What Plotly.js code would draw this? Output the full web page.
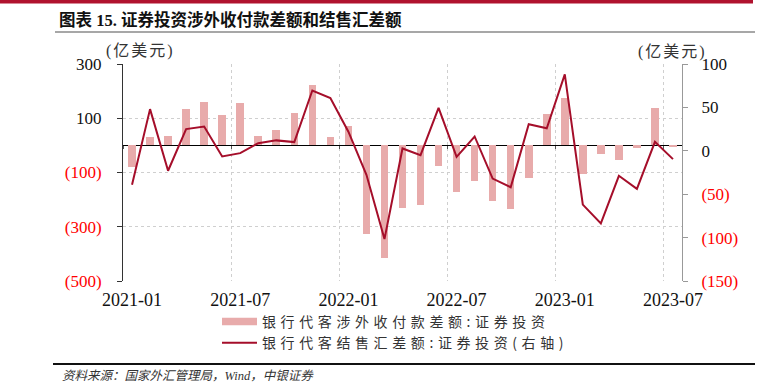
<!DOCTYPE html>
<html>
<head>
<meta charset="utf-8">
<script src="https://cdn.plot.ly/plotly-3.0.1.min.js"></script>
<style>
  html, body { margin: 0; padding: 0; background: #fff; }
  #wrap { position: relative; width: 763px; height: 384px; }
  #chart { width: 763px; height: 384px; }
  #footrule { position: absolute; left: 53px; top: 363px; width: 702px; height: 2px; background: #111; z-index: 10; }
  .legendtext { letter-spacing: 4.6px; }
  g.annotation[data-index="1"] text, g.annotation[data-index="2"] text { letter-spacing: 2px; }
</style>
</head>
<body>
<div id="wrap">
  <div id="chart"></div>
  <div id="footrule"></div>
</div>
<script>
// ---- data ----
const months = [
  "2021-01","2021-02","2021-03","2021-04","2021-05","2021-06","2021-07","2021-08","2021-09","2021-10","2021-11","2021-12",
  "2022-01","2022-02","2022-03","2022-04","2022-05","2022-06","2022-07","2022-08","2022-09","2022-10","2022-11","2022-12",
  "2023-01","2023-02","2023-03","2023-04","2023-05","2023-06","2023-07"
];
// 银行代客涉外收付款差额:证券投资 (亿美元, left axis)
const payments = [-79, 30, 35, 135, 160, 112, 157, 33, 56, 119, 223, 31,
                  71, -326, -417, -232, -218, -75, -171, -133, -204, -236, -119, 117,
                  176, -107, -31, -54, -11, 138, -7];
// 银行代客结售汇差额:证券投资 (亿美元, right axis)
const settlement = [-39, 48, -23, 25, 28, -6.5, -2.7, 8.8, 12, 10, 69.5, 60.7,
                    22, -27.6, -101.7, 2.7, -5, 49.5, -7, 16.5, -32, -42, 30.7, 26,
                    88, -62, -83.7, -28.8, -43.8, 10.4, -9.6];
const xLabelMonths = ["2021-01","2021-07","2022-01","2022-07","2023-01","2023-07"];
const leftTicks = [-500, -300, -100, 100, 300];
const rightTicks = [-150, -100, -50, 0, 50, 100];
const leftRange = [-500, 300];
const rightRange = [-150, 100];
const seriesNames = ["银行代客涉外收付款差额:证券投资", "银行代客结售汇差额:证券投资(右轴)"];

// ---- helpers ----
const W = 763, H = 384;
const M = {l: 123, r: 81, t: 64, b: 103};
const PW = W - M.l - M.r, PH = H - M.t - M.b;
const px2x = px => (px - M.l) / PW;
const px2y = py => (H - M.b - py) / PH;
const fmt = v => v < 0
  ? '<span style="color:#ff0000">(' + Math.abs(v) + ')</span>'
  : String(v);

const idx = months.map((m, i) => i);
const labelIdx = xLabelMonths.map(m => months.indexOf(m));
const boundaryIdx = labelIdx.map(i => i - 0.5);
const zeroFrac = (0 - leftRange[0]) / (leftRange[1] - leftRange[0]);

const serif = 'Liberation Serif, "Noto Sans CJK SC"';
const cjk = '"Noto Sans CJK SC", Liberation Serif';

const traces = [
  {
    type: 'bar', name: seriesNames[0],
    x: idx, y: payments, xaxis: 'x', yaxis: 'y',
    width: 0.42,
    marker: {color: '#E8ABAB', line: {width: 0}},
    hoverinfo: 'skip'
  },
  {
    type: 'scatter', mode: 'lines', name: seriesNames[1],
    x: idx, y: settlement, xaxis: 'x2', yaxis: 'y2',
    line: {color: '#A50E2A', width: 2},
    hoverinfo: 'skip'
  }
];

const layout = {
  width: W, height: H,
  margin: M,
  paper_bgcolor: '#ffffff', plot_bgcolor: 'rgba(0,0,0,0)',
  showlegend: true,
  bargap: 0,
  xaxis: {
    type: 'linear', range: [-0.5, months.length - 0.5],
    tickmode: 'array', tickvals: labelIdx, ticktext: labelIdx.map(i => months[i]),
    showgrid: false, zeroline: false, showline: false, ticks: '',
    ticklabelstandoff: 6,
    tickfont: {family: serif, size: 18, color: '#111'}
  },
  xaxis2: {
    type: 'linear', overlaying: 'x', anchor: 'free', position: zeroFrac, side: 'bottom',
    range: [-0.5, months.length - 0.5],
    tickmode: 'array', tickvals: boundaryIdx,
    showticklabels: false, ticks: 'outside', ticklen: 3, tickcolor: '#555', tickwidth: 1,
    showgrid: true, gridcolor: '#cfcfcf', griddash: 'dot', gridwidth: 1,
    zeroline: false, showline: false
  },
  yaxis: {
    range: leftRange,
    tickmode: 'array', tickvals: leftTicks, ticktext: leftTicks.map(fmt),
    showgrid: true, gridcolor: '#cfcfcf', griddash: 'dot', gridwidth: 1,
    zeroline: true, zerolinecolor: '#000', zerolinewidth: 1.5,
    showline: true, linecolor: '#333', linewidth: 1,
    ticks: 'outside', ticklen: 5, tickcolor: '#333',
    ticklabelstandoff: 12,
    tickfont: {family: serif, size: 17, color: '#111'}
  },
  yaxis2: {
    overlaying: 'y', side: 'right', anchor: 'x2',
    range: rightRange,
    tickmode: 'array', tickvals: rightTicks, ticktext: rightTicks.map(fmt),
    showgrid: false, zeroline: false,
    showline: true, linecolor: '#999', linewidth: 1,
    ticks: 'outside', ticklen: 5, tickcolor: '#999',
    ticklabelstandoff: 10,
    tickfont: {family: serif, size: 17, color: '#111'}
  },
  legend: {
    x: px2x(222), xanchor: 'left', y: px2y(306), yanchor: 'top',
    orientation: 'v', bgcolor: 'rgba(0,0,0,0)', borderwidth: 0,
    itemwidth: 30, tracegroupgap: 0,
    font: {family: cjk, size: 14, color: '#333'}
  },
  shapes: [
    {type: 'rect', xref: 'paper', yref: 'paper', x0: px2x(0), x1: px2x(753), y0: px2y(0), y1: px2y(3.5),
     fillcolor: '#B0122E', line: {width: 0}, layer: 'above'},
    {type: 'line', xref: 'paper', yref: 'paper', x0: px2x(55), x1: px2x(755), y0: px2y(32), y1: px2y(32),
     line: {color: '#8a8a8a', width: 1.6}, layer: 'above'},
    {type: 'line', xref: 'paper', yref: 'paper', x0: px2x(53), x1: px2x(755), y0: px2y(364), y1: px2y(364),
     line: {color: '#000', width: 2}, layer: 'above'}
  ],
  annotations: [
    {xref: 'paper', yref: 'paper', x: px2x(57), y: px2y(20), xanchor: 'left', yanchor: 'middle',
     showarrow: false, text: '<b>图表 15. 证券投资涉外收付款差额和结售汇差额</b>',
     font: {family: serif, size: 16.5, color: '#111'}},
    {xref: 'paper', yref: 'paper', x: px2x(140), y: px2y(51), xanchor: 'center', yanchor: 'middle',
     showarrow: false, text: '(亿美元)', font: {family: serif, size: 16, color: '#333'}},
    {xref: 'paper', yref: 'paper', x: px2x(672), y: px2y(52), xanchor: 'center', yanchor: 'middle',
     showarrow: false, text: '(亿美元)', font: {family: serif, size: 16, color: '#333'}},
    {xref: 'paper', yref: 'paper', x: px2x(60), y: px2y(376), xanchor: 'left', yanchor: 'middle',
     showarrow: false, text: '<i>资料来源：国家外汇管理局，Wind，中银证券</i>',
     font: {family: serif, size: 12.5, color: '#333'}}
  ]
};

Plotly.newPlot('chart', traces, layout, {displayModeBar: false, staticPlot: true}).then(gd => {
  // widen the legend swatches to match the reference's long bar / line keys
  gd.querySelectorAll('.legend .legendpoints path').forEach(p => {
    p.removeAttribute('transform');
    p.setAttribute('d', 'M0,-3.75H35V3.75H0Z');
  });
  gd.querySelectorAll('.legend .legendlines path').forEach(p => {
    p.setAttribute('d', 'M0,0H35');
  });
});
</script>
</body>
</html>
